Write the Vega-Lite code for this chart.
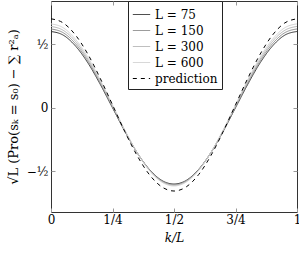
{
  "$schema": "https://vega.github.io/schema/vega-lite/v6.json",
  "width": 246,
  "height": 211,
  "autosize": {"type": "none"},
  "padding": {"left": 51, "right": 2, "top": 1, "bottom": 43},
  "background": "white",
  "config": {
    "view": {"stroke": "#333", "strokeWidth": 1},
    "font": "DejaVu Serif",
    "axis": {"grid": false, "domain": false, "tickColor": "#999", "tickSize": -4, "labelFont": "DejaVu Serif", "titleFont": "DejaVu Serif", "labelColor": "#000", "titleColor": "#000", "titleFontWeight": "normal"},
    "legend": {"labelFont": "DejaVu Serif"}
  },
  "datasets": {
    "curves": [
      {"x": 0.00, "y": 0.600, "series": "L = 75"},
      {"x": 0.05, "y": 0.571, "series": "L = 75"},
      {"x": 0.10, "y": 0.485, "series": "L = 75"},
      {"x": 0.15, "y": 0.353, "series": "L = 75"},
      {"x": 0.20, "y": 0.185, "series": "L = 75"},
      {"x": 0.25, "y": 0.000, "series": "L = 75"},
      {"x": 0.30, "y": -0.185, "series": "L = 75"},
      {"x": 0.35, "y": -0.353, "series": "L = 75"},
      {"x": 0.40, "y": -0.485, "series": "L = 75"},
      {"x": 0.45, "y": -0.571, "series": "L = 75"},
      {"x": 0.50, "y": -0.600, "series": "L = 75"},
      {"x": 0.55, "y": -0.571, "series": "L = 75"},
      {"x": 0.60, "y": -0.485, "series": "L = 75"},
      {"x": 0.65, "y": -0.353, "series": "L = 75"},
      {"x": 0.70, "y": -0.185, "series": "L = 75"},
      {"x": 0.75, "y": 0.000, "series": "L = 75"},
      {"x": 0.80, "y": 0.185, "series": "L = 75"},
      {"x": 0.85, "y": 0.353, "series": "L = 75"},
      {"x": 0.90, "y": 0.485, "series": "L = 75"},
      {"x": 0.95, "y": 0.571, "series": "L = 75"},
      {"x": 1.00, "y": 0.600, "series": "L = 75"},

      {"x": 0.00, "y": 0.620, "series": "L = 150"},
      {"x": 0.05, "y": 0.590, "series": "L = 150"},
      {"x": 0.10, "y": 0.503, "series": "L = 150"},
      {"x": 0.15, "y": 0.368, "series": "L = 150"},
      {"x": 0.20, "y": 0.197, "series": "L = 150"},
      {"x": 0.25, "y": 0.008, "series": "L = 150"},
      {"x": 0.30, "y": -0.182, "series": "L = 150"},
      {"x": 0.35, "y": -0.353, "series": "L = 150"},
      {"x": 0.40, "y": -0.488, "series": "L = 150"},
      {"x": 0.45, "y": -0.575, "series": "L = 150"},
      {"x": 0.50, "y": -0.605, "series": "L = 150"},
      {"x": 0.55, "y": -0.575, "series": "L = 150"},
      {"x": 0.60, "y": -0.488, "series": "L = 150"},
      {"x": 0.65, "y": -0.353, "series": "L = 150"},
      {"x": 0.70, "y": -0.182, "series": "L = 150"},
      {"x": 0.75, "y": 0.008, "series": "L = 150"},
      {"x": 0.80, "y": 0.197, "series": "L = 150"},
      {"x": 0.85, "y": 0.368, "series": "L = 150"},
      {"x": 0.90, "y": 0.503, "series": "L = 150"},
      {"x": 0.95, "y": 0.590, "series": "L = 150"},
      {"x": 1.00, "y": 0.620, "series": "L = 150"},

      {"x": 0.00, "y": 0.640, "series": "L = 300"},
      {"x": 0.05, "y": 0.609, "series": "L = 300"},
      {"x": 0.10, "y": 0.521, "series": "L = 300"},
      {"x": 0.15, "y": 0.382, "series": "L = 300"},
      {"x": 0.20, "y": 0.208, "series": "L = 300"},
      {"x": 0.25, "y": 0.015, "series": "L = 300"},
      {"x": 0.30, "y": -0.178, "series": "L = 300"},
      {"x": 0.35, "y": -0.352, "series": "L = 300"},
      {"x": 0.40, "y": -0.491, "series": "L = 300"},
      {"x": 0.45, "y": -0.579, "series": "L = 300"},
      {"x": 0.50, "y": -0.610, "series": "L = 300"},
      {"x": 0.55, "y": -0.579, "series": "L = 300"},
      {"x": 0.60, "y": -0.491, "series": "L = 300"},
      {"x": 0.65, "y": -0.352, "series": "L = 300"},
      {"x": 0.70, "y": -0.178, "series": "L = 300"},
      {"x": 0.75, "y": 0.015, "series": "L = 300"},
      {"x": 0.80, "y": 0.208, "series": "L = 300"},
      {"x": 0.85, "y": 0.382, "series": "L = 300"},
      {"x": 0.90, "y": 0.521, "series": "L = 300"},
      {"x": 0.95, "y": 0.609, "series": "L = 300"},
      {"x": 1.00, "y": 0.640, "series": "L = 300"},

      {"x": 0.00, "y": 0.660, "series": "L = 600"},
      {"x": 0.05, "y": 0.629, "series": "L = 600"},
      {"x": 0.10, "y": 0.538, "series": "L = 600"},
      {"x": 0.15, "y": 0.397, "series": "L = 600"},
      {"x": 0.20, "y": 0.220, "series": "L = 600"},
      {"x": 0.25, "y": 0.023, "series": "L = 600"},
      {"x": 0.30, "y": -0.175, "series": "L = 600"},
      {"x": 0.35, "y": -0.352, "series": "L = 600"},
      {"x": 0.40, "y": -0.493, "series": "L = 600"},
      {"x": 0.45, "y": -0.584, "series": "L = 600"},
      {"x": 0.50, "y": -0.615, "series": "L = 600"},
      {"x": 0.55, "y": -0.584, "series": "L = 600"},
      {"x": 0.60, "y": -0.493, "series": "L = 600"},
      {"x": 0.65, "y": -0.352, "series": "L = 600"},
      {"x": 0.70, "y": -0.175, "series": "L = 600"},
      {"x": 0.75, "y": 0.023, "series": "L = 600"},
      {"x": 0.80, "y": 0.220, "series": "L = 600"},
      {"x": 0.85, "y": 0.397, "series": "L = 600"},
      {"x": 0.90, "y": 0.538, "series": "L = 600"},
      {"x": 0.95, "y": 0.629, "series": "L = 600"},
      {"x": 1.00, "y": 0.660, "series": "L = 600"},

      {"x": 0.00, "y": 0.700, "series": "prediction"},
      {"x": 0.05, "y": 0.667, "series": "prediction"},
      {"x": 0.10, "y": 0.571, "series": "prediction"},
      {"x": 0.15, "y": 0.421, "series": "prediction"},
      {"x": 0.20, "y": 0.232, "series": "prediction"},
      {"x": 0.25, "y": 0.023, "series": "prediction"},
      {"x": 0.30, "y": -0.187, "series": "prediction"},
      {"x": 0.35, "y": -0.376, "series": "prediction"},
      {"x": 0.40, "y": -0.526, "series": "prediction"},
      {"x": 0.45, "y": -0.622, "series": "prediction"},
      {"x": 0.50, "y": -0.655, "series": "prediction"},
      {"x": 0.55, "y": -0.622, "series": "prediction"},
      {"x": 0.60, "y": -0.526, "series": "prediction"},
      {"x": 0.65, "y": -0.376, "series": "prediction"},
      {"x": 0.70, "y": -0.187, "series": "prediction"},
      {"x": 0.75, "y": 0.023, "series": "prediction"},
      {"x": 0.80, "y": 0.232, "series": "prediction"},
      {"x": 0.85, "y": 0.421, "series": "prediction"},
      {"x": 0.90, "y": 0.571, "series": "prediction"},
      {"x": 0.95, "y": 0.667, "series": "prediction"},
      {"x": 1.00, "y": 0.700, "series": "prediction"}
    ]
  },
  "data": {"name": "curves"},
  "layer": [
    {
      "mark": {"type": "line", "interpolate": "monotone", "strokeWidth": 1, "clip": true},
      "encoding": {
        "x": {
          "field": "x", "type": "quantitative",
          "scale": {"domain": [0, 1], "nice": false, "zero": false},
          "axis": {"values": [0, 0.25, 0.5, 0.75, 1], "labelFontSize": 12, "labelPadding": 6, "labelFlush": false,
                   "labelExpr": "datum.value == 0.25 ? '1/4' : datum.value == 0.5 ? '1/2' : datum.value == 0.75 ? '3/4' : datum.value == 1 ? '1' : '0'",
                   "title": "k/L", "titleFontSize": 12, "titleFontStyle": "italic", "titlePadding": 7}
        },
        "y": {
          "field": "y", "type": "quantitative",
          "scale": {"domain": [-0.82, 0.84], "nice": false, "zero": false},
          "axis": {"values": [-0.5, 0, 0.5], "labelFontSize": 12, "labelPadding": 7,
                   "labelExpr": "datum.value == 0.5 ? '½' : datum.value == -0.5 ? '−½' : '0'",
                   "title": "√L (Pro(sₖ = s₀) − ∑ r²ₐ)", "titleFontSize": 13, "titlePadding": 6}
        },
        "color": {
          "field": "series", "type": "nominal",
          "scale": {"domain": ["L = 75", "L = 150", "L = 300", "L = 600", "prediction"],
                    "range": ["#333333", "#8c8c8c", "#b5b5b5", "#d2d2d2", "#000000"]},
          "legend": {"orient": "none", "legendX": 77, "legendY": 0, "title": null,
                     "symbolType": "stroke", "symbolSize": 300, "symbolStrokeWidth": 1,
                     "labelFontSize": 12, "rowPadding": 0, "symbolOffset": 0,
                     "padding": 4, "strokeColor": "#222", "fillColor": "white", "labelLimit": 200}
        },
        "strokeDash": {
          "field": "series", "type": "nominal",
          "scale": {"domain": ["L = 75", "L = 150", "L = 300", "L = 600", "prediction"],
                    "range": [[1, 0], [1, 0], [1, 0], [1, 0], [4, 4]]},
          "legend": {"orient": "none", "legendX": 77, "legendY": 0, "title": null,
                     "symbolType": "stroke", "symbolSize": 300, "symbolStrokeWidth": 1,
                     "labelFontSize": 12, "rowPadding": 0, "symbolOffset": 0,
                     "padding": 4, "strokeColor": "#222", "fillColor": "white", "labelLimit": 200}
        }
      }
    },
    {
      "mark": {"type": "line", "opacity": 0},
      "encoding": {
        "x": {"field": "x", "type": "quantitative",
              "axis": {"orient": "top", "values": [0, 0.25, 0.5, 0.75, 1], "labels": false, "title": null}},
        "y": {"field": "y", "type": "quantitative",
              "axis": {"orient": "right", "values": [-0.5, 0, 0.5], "labels": false, "title": null}}
      }
    }
  ],
  "resolve": {"axis": {"x": "independent", "y": "independent"}}
}
